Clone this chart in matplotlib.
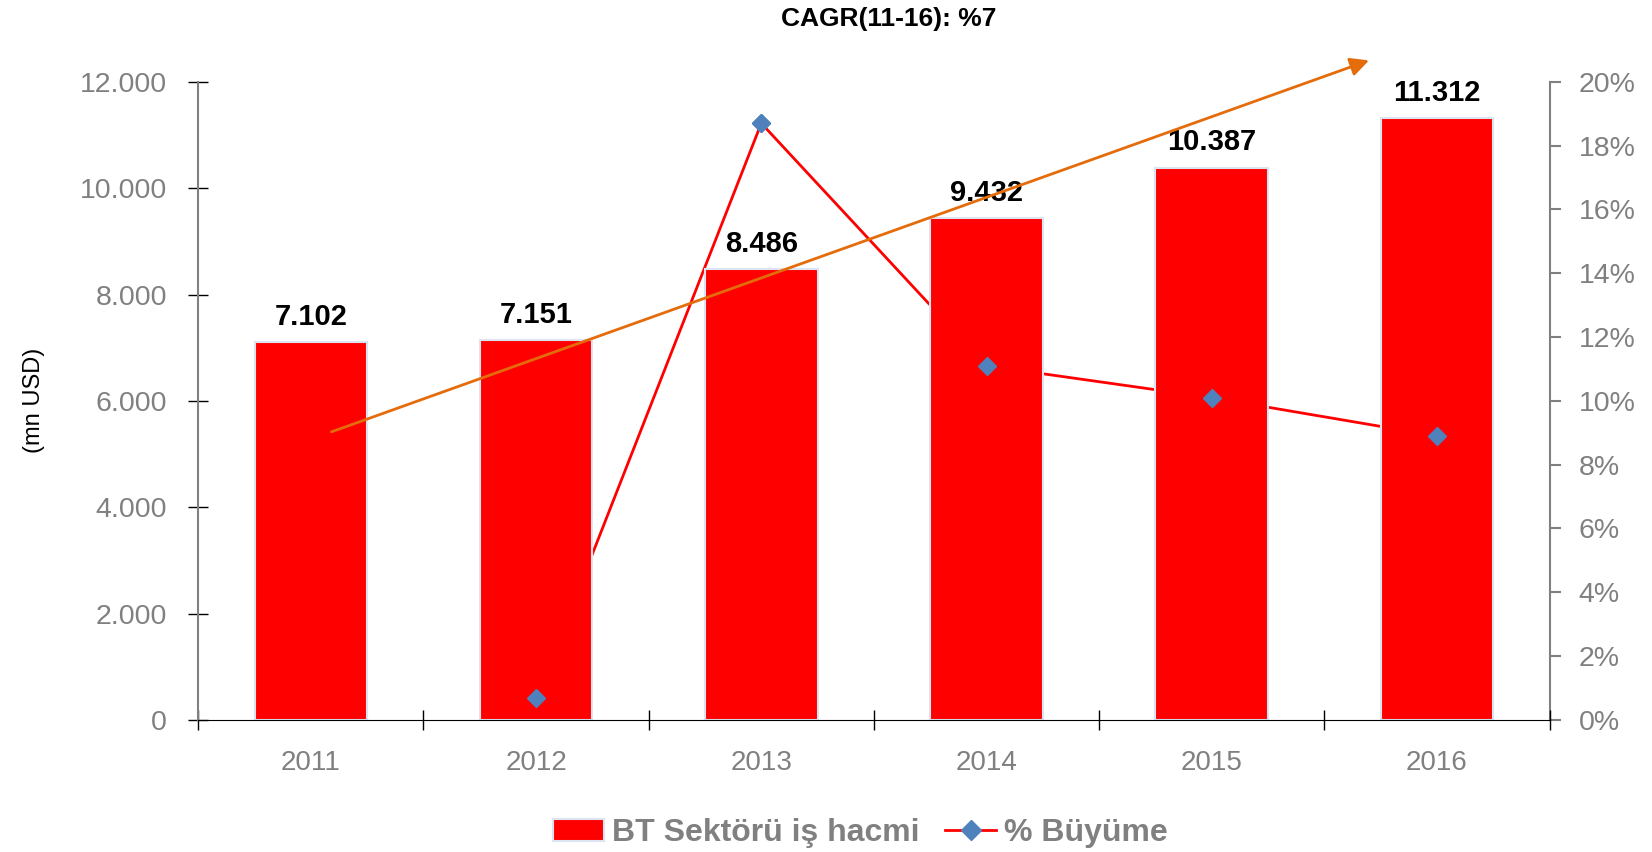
import matplotlib.pyplot as plt
from matplotlib.lines import Line2D
from matplotlib.ticker import FixedLocator, FuncFormatter

years = ['2011', '2012', '2013', '2014', '2015', '2016']
volume = [7102, 7151, 8486, 9432, 10387, 11312]
growth = [None, 0.7, 18.7, 11.1, 10.1, 8.9]

RED = '#ff0000'
BLUE = '#4f81bd'
ORANGE = '#e46c0a'
GRAY = '#808080'

plt.rcParams['font.family'] = ['Liberation Sans', 'DejaVu Sans']


def thousands(v, pos=None):
    return f"{v:,.0f}".replace(',', '.')


def main():
    fig = plt.figure(figsize=(16.52, 8.52), dpi=100)
    ax1 = fig.add_axes([0.120, 0.155, 0.818, 0.749])
    ax2 = ax1.twinx()   # line, drawn behind bars
    ax3 = ax1.twinx()   # markers, drawn above bars
    ax2.set_zorder(1)
    ax1.set_zorder(2)
    ax3.set_zorder(3)
    ax1.patch.set_visible(False)
    ax3.patch.set_visible(False)

    x = list(range(len(years)))
    gx = [i for i, g in zip(x, growth) if g is not None]
    gy = [g for g in growth if g is not None]

    bars = ax1.bar(x, volume, width=0.5, color=RED, edgecolor='#dce4f2', linewidth=1.5)
    for xi, v in zip(x, volume):
        ax1.annotate(thousands(v), (xi, v), xytext=(0, 8), textcoords='offset points',
                     ha='center', va='bottom', fontsize=21, fontweight='bold', color='black')

    ax2.plot(gx, gy, color=RED, lw=2, marker='D', ms=9, mfc=BLUE, mec=BLUE)
    ax3.plot(gx, gy, ls='none', marker='D', ms=9, mfc=BLUE, mec=BLUE)

    ax1.set_xlim(-0.5, 5.5)
    ax1.set_ylim(0, 12000)
    ax2.set_ylim(0, 20)
    ax3.set_ylim(0, 20)

    # primary axis
    ax1.set_yticks(range(0, 12001, 2000))
    ax1.yaxis.set_major_formatter(FuncFormatter(thousands))
    ax1.tick_params(axis='y', direction='inout', length=15, width=1, colors='black',
                    labelcolor=GRAY, labelsize=20.5, pad=15)
    ax1.xaxis.set_major_locator(FixedLocator([i - 0.5 for i in range(len(years) + 1)]))
    ax1.xaxis.set_minor_locator(FixedLocator(x))
    ax1.set_xticklabels([], minor=False)
    ax1.set_xticklabels(years, minor=True)
    ax1.tick_params(axis='x', which='major', direction='inout', length=15, width=1, colors='black')
    ax1.tick_params(axis='x', which='minor', length=0, labelcolor=GRAY, labelsize=20, pad=22)
    for s in ['top', 'right']:
        ax1.spines[s].set_visible(False)
    ax1.spines['left'].set_color(GRAY)
    ax1.spines['left'].set_linewidth(1.5)
    ax1.spines['bottom'].set_color('black')
    ax1.set_ylabel('(mn USD)', fontsize=17, labelpad=25)

    # secondary axis
    ax2.set_yticks(range(0, 21, 2))
    ax2.yaxis.set_major_formatter(FuncFormatter(lambda v, p: f"{v:.0f}%"))
    ax2.tick_params(axis='y', direction='out', length=8, width=1.5, colors=GRAY,
                    labelcolor=GRAY, labelsize=20.5, pad=13)
    for s in ['top', 'left', 'bottom']:
        ax2.spines[s].set_visible(False)
    ax2.spines['right'].set_color(GRAY)
    ax2.spines['right'].set_linewidth(1.5)

    ax3.axis('off')

    # CAGR trend arrow
    ax3.annotate('', xy=(4.71, 20.7), xytext=(0.08, 9.0), xycoords='data',
                 arrowprops=dict(arrowstyle='-|>', color=ORANGE, lw=2, mutation_scale=28),
                 annotation_clip=False)
    fig.text(0.538, 0.978, 'CAGR(11-16): %7', ha='center', va='center',
             fontsize=19, fontweight='bold')

    handles = [bars, Line2D([], [], color=RED, lw=2, marker='D', ms=10, mfc=BLUE, mec=BLUE)]
    leg = fig.legend(handles, ['BT Sektörü iş hacmi', '% Büyüme'], loc='center',
                     bbox_to_anchor=(0.521, 0.022), ncol=2, frameon=False,
                     prop={'size': 23, 'weight': 'bold'}, handlelength=1.6,
                     columnspacing=0.8, handletextpad=0.25)
    for t in leg.get_texts():
        t.set_color(GRAY)

    fig.savefig('out.png', dpi=100)


if __name__ == '__main__':
    main()
